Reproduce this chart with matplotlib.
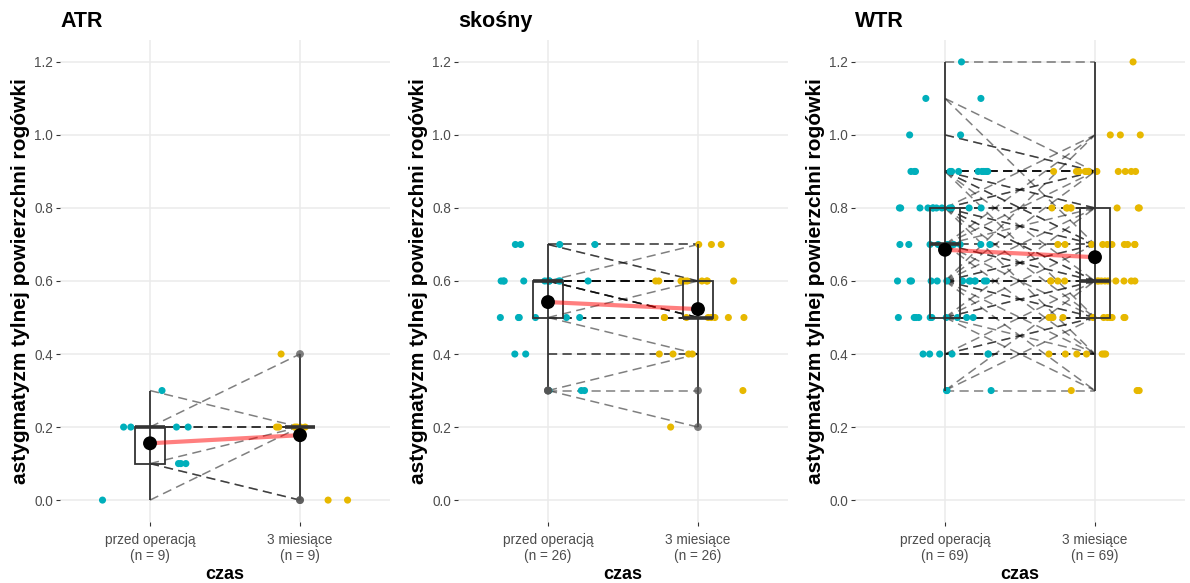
import numpy as np
import matplotlib
matplotlib.use("Agg")
import matplotlib.pyplot as plt
from matplotlib.patches import Rectangle

plt.rcParams['font.family'] = ['Liberation Sans', 'DejaVu Sans']

# Paired measurements per astigmatism type: value before surgery and after 3 months
groups = ["ATR", "skośny", "WTR"]
time_levels = ["przed operacją", "3 miesiące"]

atr_pre = [0.3, 0.2, 0.2, 0.2, 0.2, 0.1, 0.0, 0.1, 0.1]
atr_post = [0.2, 0.4, 0.2, 0.2, 0.2, 0.2, 0.2, 0.0, 0.0]

skosny_pre = [0.7, 0.7, 0.7, 0.7,
              0.6, 0.6, 0.6, 0.6, 0.6, 0.6, 0.6, 0.6, 0.6, 0.6, 0.6,
              0.5, 0.5, 0.5, 0.5, 0.5, 0.5,
              0.4, 0.4,
              0.3, 0.3, 0.3]
skosny_post = [0.7, 0.7, 0.6, 0.6,
               0.7, 0.6, 0.6, 0.6, 0.6, 0.6, 0.6, 0.5, 0.5, 0.5, 0.5,
               0.6, 0.5, 0.5, 0.5, 0.5, 0.4,
               0.4, 0.4,
               0.4, 0.3, 0.2]

wtr_pre = [1.2,
           1.1, 1.1,
           1.0, 1.0,
           0.9, 0.9, 0.9, 0.9, 0.9, 0.9, 0.9, 0.9, 0.9, 0.9, 0.9,
           0.8, 0.8, 0.8, 0.8, 0.8, 0.8, 0.8, 0.8, 0.8, 0.8, 0.8, 0.8,
           0.7, 0.7, 0.7, 0.7, 0.7, 0.7, 0.7, 0.7, 0.7,
           0.6, 0.6, 0.6, 0.6, 0.6, 0.6, 0.6, 0.6, 0.6, 0.6, 0.6, 0.6, 0.6,
           0.5, 0.5, 0.5, 0.5, 0.5, 0.5, 0.5, 0.5, 0.5, 0.5,
           0.4, 0.4, 0.4, 0.4, 0.4, 0.4,
           0.3, 0.3, 0.3]
wtr_post = [1.2,
            0.9, 0.7,
            0.9, 0.9,
            0.9, 0.9, 0.9, 0.9, 0.9, 0.8, 0.8, 0.7, 0.7, 0.6, 0.5,
            1.0, 0.9, 0.9, 0.8, 0.8, 0.8, 0.7, 0.7, 0.6, 0.6, 0.5, 0.4,
            1.0, 0.9, 0.8, 0.7, 0.7, 0.6, 0.6, 0.5, 0.4,
            1.0, 0.9, 0.8, 0.7, 0.7, 0.6, 0.6, 0.6, 0.6, 0.5, 0.5, 0.4, 0.3,
            0.8, 0.7, 0.6, 0.6, 0.5, 0.5, 0.5, 0.5, 0.4, 0.3,
            0.6, 0.5, 0.5, 0.4, 0.4, 0.4,
            0.6, 0.5, 0.3]

panels = [(groups[0], atr_pre, atr_post),
          (groups[1], skosny_pre, skosny_post),
          (groups[2], wtr_pre, wtr_post)]

y_ticks = [0.0, 0.2, 0.4, 0.6, 0.8, 1.0, 1.2]

COL_PRE = "#00AFBB"
COL_POST = "#E7B800"
GRID = "#EBEBEB"
BOX = "#333333"

W, H = 1190, 583
fig = plt.figure(figsize=(W / 100, H / 100), dpi=100)
panel_left = [60, 458, 855]
panel_w, panel_bottom, panel_h = 330, 61, 482

rng = np.random.default_rng(7)


def draw_box(ax, x, vals):
    vals = np.asarray(vals)
    q1, med, q3 = np.percentile(vals, [25, 50, 75])
    iqr = q3 - q1
    lo_f, hi_f = q1 - 1.5 * iqr, q3 + 1.5 * iqr
    # full range line
    ax.plot([x, x], [vals.min(), vals.max()], color=BOX, lw=1.3, zorder=4,
            solid_capstyle='butt')
    ax.add_patch(Rectangle((x - 0.1, q1), 0.2, q3 - q1, fill=False,
                           edgecolor=BOX, lw=1.3, zorder=4))
    ax.plot([x - 0.1, x + 0.1], [med, med], color=BOX, lw=2.6, zorder=4,
            solid_capstyle='butt')
    out = vals[(vals < lo_f - 1e-9) | (vals > hi_f + 1e-9)]
    if len(out):
        ax.scatter(np.full(len(out), x), out, s=32, color="#555555",
                   alpha=0.75, edgecolors='none', zorder=5)


for i, (name, pre, post) in enumerate(panels):
    pre = np.asarray(pre)
    post = np.asarray(post)
    n = len(pre)
    ax = fig.add_axes([panel_left[i] / W, panel_bottom / H,
                       panel_w / W, panel_h / H])
    ax.set_xlim(0.4, 2.6)
    ax.set_ylim(-0.06, 1.26)
    ax.set_axisbelow(True)
    ax.grid(True, color=GRID, lw=1.1)
    for s in ax.spines.values():
        s.set_visible(False)

    # paired paths
    for a, b in zip(pre, post):
        ax.plot([1, 2], [a, b], color='black', alpha=0.5, lw=1.1,
                ls=(0, (6, 3.5)), zorder=2)

    # jittered observations
    jx1 = 1 + rng.uniform(-0.32, 0.32, n)
    jx2 = 2 + rng.uniform(-0.32, 0.32, n)
    ax.scatter(jx1, pre, s=26, color=COL_PRE, edgecolors='none', zorder=3)
    ax.scatter(jx2, post, s=26, color=COL_POST, edgecolors='none', zorder=3)

    draw_box(ax, 1, pre)
    draw_box(ax, 2, post)

    # group means
    m1, m2 = pre.mean(), post.mean()
    ax.plot([1, 2], [m1, m2], color='red', alpha=0.5, lw=3, zorder=6,
            solid_capstyle='butt')
    ax.scatter([1, 2], [m1, m2], s=100, color='black', edgecolors='none',
               zorder=7)

    ax.set_xticks([1, 2])
    ax.set_xticklabels([f"{time_levels[0]}\n(n = {n})",
                        f"{time_levels[1]}\n(n = {n})"])
    ax.set_yticks(y_ticks)
    ax.set_yticklabels([f"{v:.1f}" for v in y_ticks])
    ax.tick_params(length=3, width=0.8, color="#333333",
                   labelcolor="#4D4D4D", labelsize=9.8, pad=2)
    ax.tick_params(axis='x', pad=5)
    ax.set_xlabel("czas", fontsize=13, fontweight='bold', labelpad=2)
    ax.set_ylabel("astygmatyzm tylnej powierzchni rogówki", fontsize=15,
                  fontweight='bold', labelpad=3)
    fig.text(panel_left[i] / W, 1 - 27 / H, name, fontsize=15.5,
             fontweight='bold', ha='left', va='baseline')

fig.savefig("out.png", dpi=100)
